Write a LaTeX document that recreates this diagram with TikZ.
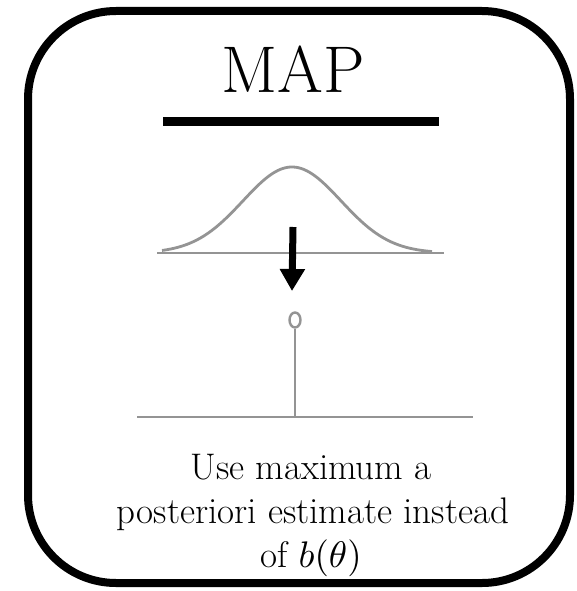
\documentclass[tikz,border=0pt]{standalone}
\DeclareFontShape{OT1}{cmr}{m}{n}{<->cmr10}{}
\DeclareFontShape{OML}{cmm}{m}{it}{<->cmmi10}{}
\DeclareFontShape{OMS}{cmsy}{m}{n}{<->cmsy10}{}
\DeclareFontShape{OMX}{cmex}{m}{n}{<->cmex10}{}
\usetikzlibrary{arrows.meta,shapes.geometric}
\begin{document}
\begin{tikzpicture}[x=1pt,y=-1pt,
  curve/.style={draw=black!42,line width=2.8pt},
  frame/.style={draw=black,line width=8pt,rounded corners=88pt},
  bigtext/.style={font=\fontsize{66}{70}\selectfont,inner sep=0pt,anchor=base},
  captext/.style={font=\fontsize{37}{44}\selectfont,inner sep=0pt,anchor=base}]
\useasboundingbox (0,0) rectangle (577,591);
\draw[frame] (28,11) rectangle (570,583);
\node[bigtext] (title) at (293.5,93) {MAP};
\coordinate (barL) at (163,121.5);
\coordinate (barR) at (439,121.5);
\draw[line width=9pt] (barL) -- (barR);
% gaussian
\coordinate (g1) at (157,253);
\coordinate (g2) at (444,253);
\draw[curve] (g1) -- (g2);
\draw[curve] plot[domain=-130:140,samples=120,smooth] ({292+\x},{253-86*exp(-0.5*(\x/49)*(\x/49))});
% arrow
\coordinate (a1) at (293,227);
\coordinate (a2) at (292,291);
\draw[line width=7pt,-{Triangle[width=24pt,length=22pt]}] (a1) -- (a2);
% stem
\node[draw=black!42,line width=2.4pt,ellipse,minimum width=11pt,minimum height=15pt,inner sep=0pt] (dot) at (295,320) {};
\coordinate (s1) at (137,417);
\coordinate (s2) at (473,417);
\coordinate (sb) at (295,417);
\draw[curve] (s1) -- (s2);
\draw[curve] (dot.south) -- (sb);
\node[captext] (cap1) at (311,479) {Use maximum a};
\node[captext] (cap2) at (313,523) {posteriori estimate instead};
\node[captext] (cap3) at (311,567) {of $b(\theta)$};
\end{tikzpicture}
\end{document}
